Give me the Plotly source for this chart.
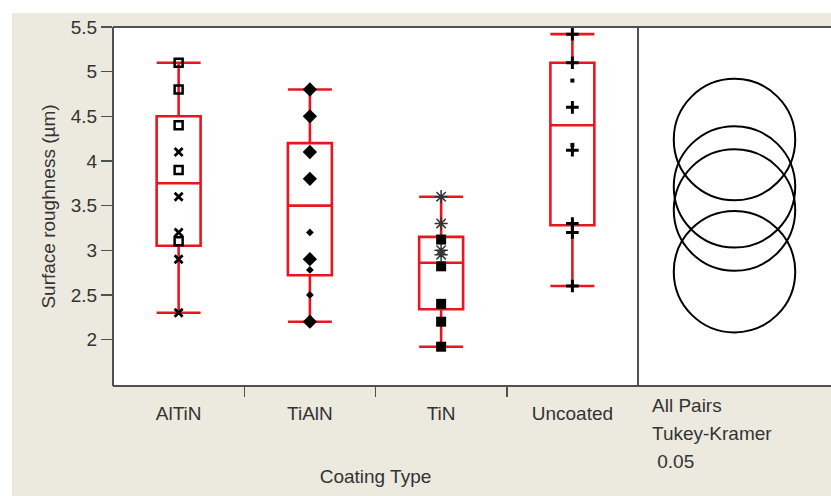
import plotly.graph_objects as go

# ---------------- data ----------------
categories = ["AlTiN", "TiAlN", "TiN", "Uncoated"]
q1 = [3.05, 2.72, 2.34, 3.28]
median = [3.75, 3.50, 2.86, 4.40]
q3 = [4.50, 4.20, 3.15, 5.10]
lower_whisker = [2.30, 2.20, 1.92, 2.60]
upper_whisker = [5.10, 4.80, 3.60, 5.42]

altin_squares = [5.10, 4.80, 4.40, 3.90, 3.10]
altin_crosses = [4.10, 3.60, 3.20, 2.90, 2.30]
tialn_diamonds = [4.80, 4.50, 4.10, 3.80, 2.90, 2.20]
tialn_small = [3.20, 2.78, 2.50]
tin_stars = [3.60, 3.30, 3.00, 2.95]
tin_squares = [3.12, 2.82, 2.40, 2.20, 1.92]
unc_plus = [5.42, 5.10, 4.60, 4.12, 3.30, 3.20, 2.60]
unc_dots = [4.90, 4.18]

# Tukey-Kramer comparison circles (centre = group mean, common radius)
circle_groups = ["Uncoated", "AlTiN", "TiAlN", "TiN"]
circle_means = [4.24, 3.71, 3.45, 2.76]
circle_radius = 0.68

y_ticks = [2, 2.5, 3, 3.5, 4, 4.5, 5, 5.5]
y_range = [1.48, 5.5]
boundaries = [0.5, 1.5, 2.5]

# ---------------- style ----------------
W, H = 831, 496
ML, MR, MT, MB = 113, 0, 27, 496 - 386
plot_w = W - ML - MR
plot_h = H - MT - MB
split = (638 - ML) / plot_w
beige = "#ECE9DF"
red = "#E8171F"
frame = "#505050"
txt = "#333333"
FONT = "Liberation Sans, Arial, sans-serif"
FS = 19

def px_x(px):
    return (px - ML) / plot_w

def px_y(py):
    return ((H - MB) - py) / plot_h

fig = go.Figure()

fig.add_trace(go.Box(
    x=categories, q1=q1, median=median, q3=q3,
    lowerfence=lower_whisker, upperfence=upper_whisker,
    line=dict(color=red, width=2.6), fillcolor="rgba(0,0,0,0)",
    whiskerwidth=1, width=0.335, boxpoints=False, showlegend=False,
))

def pts(cat, vals, symbol, size, lw=0, color="black"):
    fig.add_trace(go.Scatter(
        x=[cat] * len(vals), y=vals, mode="markers", showlegend=False,
        marker=dict(symbol=symbol, size=size, color=color,
                    line=dict(width=lw, color=color)),
    ))

pts("AlTiN", altin_squares, "square-open", 8, 2.5)
pts("AlTiN", altin_crosses, "x-thin-open", 8, 2.8)
pts("TiAlN", tialn_diamonds, "diamond", 11)
pts("TiAlN", tialn_small, "diamond", 6)
pts("TiN", tin_stars, "asterisk-open", 11, 1.5, "#333333")
pts("TiN", tin_squares, "square", 10)
pts("Uncoated", unc_plus, "cross-thin-open", 9, 3)
pts("Uncoated", unc_dots, "square", 4)

# invisible helpers so x2 / x3 exist
fig.add_trace(go.Scatter(x=[0], y=[circle_means[0]], xaxis="x2", yaxis="y",
                         mode="markers", marker=dict(opacity=0), showlegend=False,
                         hoverinfo="skip"))
fig.add_trace(go.Scatter(x=[boundaries[0]], y=[circle_means[0]], xaxis="x3", yaxis="y",
                         mode="markers", marker=dict(opacity=0), showlegend=False,
                         hoverinfo="skip"))

# circles in the comparison panel (x2 scaled like y)
px_per_unit = plot_h / (y_range[1] - y_range[0])
half = (plot_w * (1 - split)) / 2 / px_per_unit
shapes = []
for m in circle_means:
    shapes.append(dict(type="circle", xref="x2", yref="y",
                       x0=-circle_radius, x1=circle_radius,
                       y0=m - circle_radius, y1=m + circle_radius,
                       line=dict(color="black", width=2)))

# white strips at the top/left edges of the picture
shapes.append(dict(type="rect", xref="paper", yref="paper", layer="below",
                   x0=px_x(-2), x1=px_x(12), y0=px_y(500), y1=px_y(-2),
                   fillcolor="white", line=dict(width=0)))
shapes.append(dict(type="rect", xref="paper", yref="paper", layer="below",
                   x0=px_x(-2), x1=px_x(840), y0=px_y(13), y1=px_y(-2),
                   fillcolor="white", line=dict(width=0)))
# frame lines
for (x0, y0, x1, y1) in [(0, 1, 1.01, 1), (0, 0, 1.01, 0), (0, 0, 0, 1), (split, 0, split, 1)]:
    shapes.append(dict(type="line", xref="paper", yref="paper",
                       x0=x0, y0=y0, x1=x1, y1=y1,
                       line=dict(color=frame, width=2)))

annotations = []
for text, ypx in [("All Pairs", 405), ("Tukey-Kramer", 433), (" 0.05", 462)]:
    annotations.append(dict(text=text, xref="paper", yref="paper",
                            x=px_x(650), y=px_y(ypx),
                            xanchor="left", yanchor="middle", showarrow=False,
                            font=dict(size=FS, color=txt, family=FONT)))

fig.update_layout(
    width=W, height=H,
    margin=dict(l=ML, r=MR, t=MT, b=MB, pad=0),
    paper_bgcolor=beige, plot_bgcolor="white",
    font=dict(family=FONT, size=FS, color=txt),
    hovermode=False,
    xaxis=dict(domain=[0, split], type="category", categoryorder="array",
               categoryarray=categories, range=[-0.5, 3.5],
               ticks="", showgrid=False, showline=False, zeroline=False,
               ticklabelstandoff=14,
               tickfont=dict(size=FS, color=txt),
               title=dict(text="Coating Type", standoff=46, font=dict(size=FS, color=txt))),
    xaxis3=dict(domain=[0, split], range=[-0.5, 3.5], anchor="y", overlaying="x",
                side="bottom", tickvals=boundaries, ticktext=["", "", ""],
                ticks="outside", ticklen=10, tickwidth=1.5, tickcolor=frame,
                showgrid=False, showline=False, zeroline=False),
    xaxis2=dict(domain=[split, 1], range=[-half, half], anchor="y",
                showticklabels=False, ticks="", showgrid=False, zeroline=False,
                showline=False),
    yaxis=dict(range=y_range, tickvals=y_ticks, ticks="outside", ticklen=11,
               tickwidth=1.5, tickcolor=frame, showgrid=False, zeroline=False,
               showline=False, tickfont=dict(size=FS, color=txt),
               title=dict(text="Surface roughness (µm)", standoff=10,
                          font=dict(size=FS, color=txt))),
    shapes=shapes, annotations=annotations,
)

fig.write_html(
    "out.html",
    config={"displayModeBar": False, "staticPlot": True},
    post_script="document.body.style.margin='0';document.body.style.overflow='hidden';",
)
